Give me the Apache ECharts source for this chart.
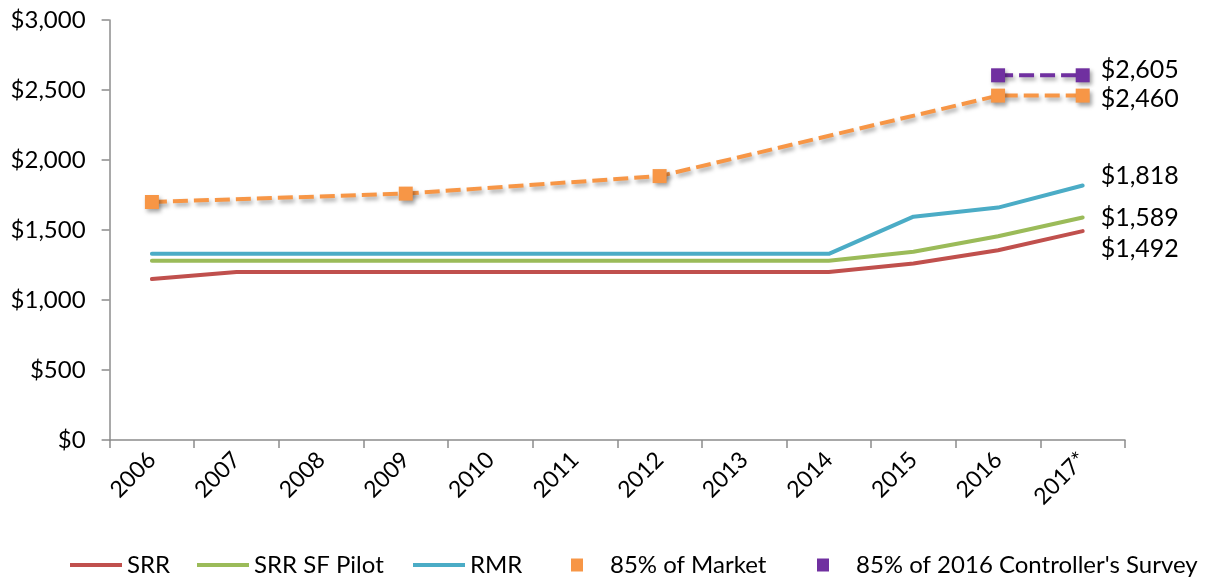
<!DOCTYPE html>
<html>
<head>
<meta charset="utf-8">
<script src="https://cdn.jsdelivr.net/npm/echarts@6/dist/echarts.min.js"></script>
<style>
  html, body { margin: 0; padding: 0; background: #fff; }
  #main { width: 1209px; height: 585px; }
</style>
</head>
<body>
<div id="main"></div>
<script>
// categories and values
const years = ['2006', '2007', '2008', '2009', '2010', '2011', '2012', '2013', '2014', '2015', '2016', '2017*'];
const srr = [1150, 1200, 1200, 1200, 1200, 1200, 1200, 1200, 1200, 1260, 1355, 1492];
const srrPilot = [1280, 1280, 1280, 1280, 1280, 1280, 1280, 1280, 1280, 1345, 1455, 1589];
const rmr = [1330, 1330, 1330, 1330, 1330, 1330, 1330, 1330, 1330, 1595, 1660, 1818];
const market = [1700, null, null, 1760, null, null, 1885, null, null, null, 2460, 2460];
const survey = [null, null, null, null, null, null, null, null, null, null, 2605, 2605];
const yTicks = [0, 500, 1000, 1500, 2000, 2500, 3000];

const FONT = 'Lato';
const fmt = v => '$' + v.toLocaleString('en-US');

function endLabel(offsetY) {
  return {
    show: true, distance: 18, offset: [0, offsetY],
    formatter: p => fmt(Array.isArray(p.value) ? p.value[1] : p.value),
    fontFamily: FONT, fontSize: 25, color: '#000'
  };
}

// one legend per item so each can sit where the reference has it
function legendItem(name, left, isLine) {
  return {
    left: left, top: 553, padding: 0, icon: 'rect',
    itemWidth: isLine ? 52 : 12, itemHeight: isLine ? 4 : 13,
    textStyle: { fontFamily: FONT, fontSize: 24, color: '#000', padding: isLine ? 0 : [0, 0, 0, 22] },
    data: [name]
  };
}

const dashShadow = { shadowColor: 'rgba(0,0,0,0.35)', shadowBlur: 4, shadowOffsetX: 2, shadowOffsetY: 3 };

let chart = echarts.init(document.getElementById('main'));
let option = {
  animation: false,
  grid: { left: 109.6, right: 84, top: 20, bottom: 145, containLabel: false },
  legend: [
    legendItem('SRR', 70, true),
    legendItem('SRR SF Pilot', 197, true),
    legendItem('RMR', 413, true),
    legendItem('85% of Market', 571, false),
    legendItem("85% of 2016 Controller's Survey", 817, false)
  ],
  xAxis: {
    type: 'category', data: years, boundaryGap: true,
    axisLine: { lineStyle: { color: '#8c8c8c', width: 1.5 } },
    axisTick: { show: true, length: 8, interval: 0, lineStyle: { color: '#8c8c8c', width: 1.5 } },
    axisLabel: { rotate: 45, interval: 0, margin: 16, fontFamily: FONT, fontSize: 23, color: '#000' },
    splitLine: { show: false }
  },
  yAxis: {
    type: 'value', min: yTicks[0], max: yTicks[yTicks.length - 1], interval: 500,
    axisLine: { show: true, lineStyle: { color: '#8c8c8c', width: 1.5 } },
    axisTick: { show: true, length: 8, lineStyle: { color: '#8c8c8c', width: 1.5 } },
    axisLabel: { margin: 24, fontFamily: FONT, fontSize: 24, color: '#000', formatter: v => fmt(v) },
    splitLine: { show: false }
  },
  series: [{
    name: 'SRR', type: 'line', data: srr, symbol: 'none',
    lineStyle: { color: '#C0504D', width: 4, cap: 'round' }, itemStyle: { color: '#C0504D' },
    endLabel: endLabel(18), z: 3
  }, {
    name: 'SRR SF Pilot', type: 'line', data: srrPilot, symbol: 'none',
    lineStyle: { color: '#9BBB59', width: 4, cap: 'round' }, itemStyle: { color: '#9BBB59' },
    endLabel: endLabel(0), z: 3
  }, {
    name: 'RMR', type: 'line', data: rmr, symbol: 'none',
    lineStyle: { color: '#4BACC6', width: 4, cap: 'round' }, itemStyle: { color: '#4BACC6' },
    endLabel: endLabel(-10), z: 3
  }, {
    name: '85% of Market', type: 'line', data: market, connectNulls: true,
    symbol: 'rect', symbolSize: 14,
    lineStyle: Object.assign({ color: '#F79646', width: 4, type: [15, 6] }, dashShadow),
    itemStyle: Object.assign({ color: '#F79646' }, dashShadow),
    endLabel: endLabel(3), z: 4
  }, {
    name: "85% of 2016 Controller's Survey", type: 'line', data: survey, connectNulls: true,
    symbol: 'rect', symbolSize: 14,
    lineStyle: Object.assign({ color: '#7030A0', width: 4, type: [15, 6] }, dashShadow),
    itemStyle: Object.assign({ color: '#7030A0' }, dashShadow),
    endLabel: endLabel(-5), z: 4
  }]
};
chart.setOption(option);
</script>
</body>
</html>
